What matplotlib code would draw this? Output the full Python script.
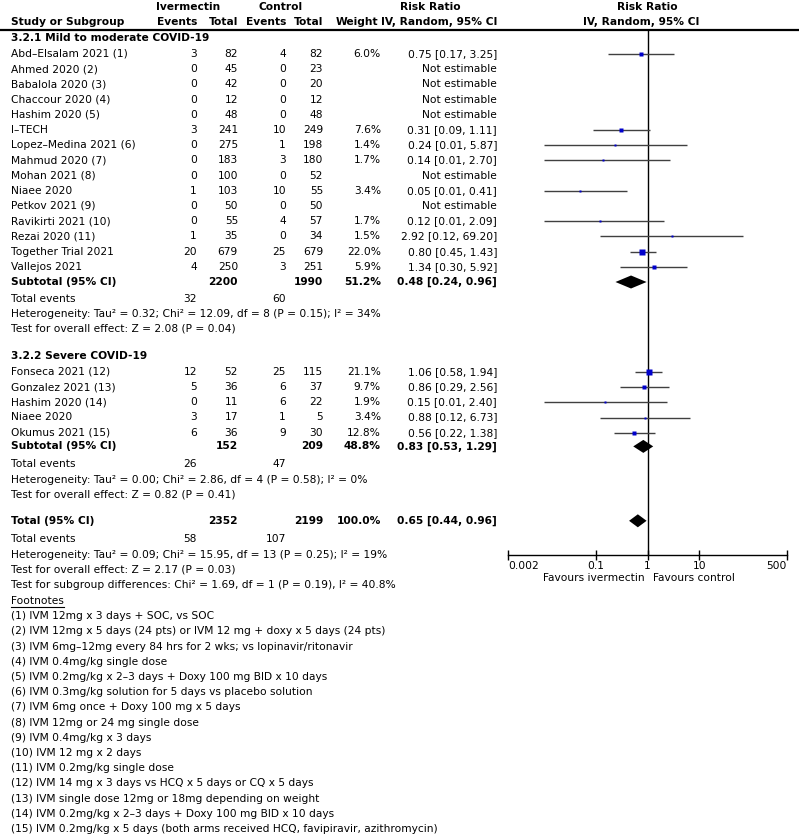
import matplotlib
matplotlib.use('Agg')
import matplotlib.pyplot as plt

plt.rcParams['font.family'] = ['DejaVu Sans']

W, H = 799, 839
FS = 7.7

# ---------------- data ----------------
mild_studies = ["Abd–Elsalam 2021 (1)", "Ahmed 2020 (2)", "Babalola 2020 (3)", "Chaccour 2020 (4)",
                "Hashim 2020 (5)", "I–TECH", "Lopez–Medina 2021 (6)", "Mahmud 2020 (7)", "Mohan 2021 (8)",
                "Niaee 2020", "Petkov 2021 (9)", "Ravikirti 2021 (10)", "Rezai 2020 (11)",
                "Together Trial 2021", "Vallejos 2021"]
mild_iv_events = [3, 0, 0, 0, 0, 3, 0, 0, 0, 1, 0, 0, 1, 20, 4]
mild_iv_total = [82, 45, 42, 12, 48, 241, 275, 183, 100, 103, 50, 55, 35, 679, 250]
mild_ctl_events = [4, 0, 0, 0, 0, 10, 1, 3, 0, 10, 0, 4, 0, 25, 3]
mild_ctl_total = [82, 23, 20, 12, 48, 249, 198, 180, 52, 55, 50, 57, 34, 679, 251]
mild_weight = [6.0, None, None, None, None, 7.6, 1.4, 1.7, None, 3.4, None, 1.7, 1.5, 22.0, 5.9]
mild_rr = [0.75, None, None, None, None, 0.31, 0.24, 0.14, None, 0.05, None, 0.12, 2.92, 0.80, 1.34]
mild_lo = [0.17, None, None, None, None, 0.09, 0.01, 0.01, None, 0.01, None, 0.01, 0.12, 0.45, 0.30]
mild_hi = [3.25, None, None, None, None, 1.11, 5.87, 2.70, None, 0.41, None, 2.09, 69.20, 1.43, 5.92]

severe_studies = ["Fonseca 2021 (12)", "Gonzalez 2021 (13)", "Hashim 2020 (14)", "Niaee 2020", "Okumus 2021 (15)"]
severe_iv_events = [12, 5, 0, 3, 6]
severe_iv_total = [52, 36, 11, 17, 36]
severe_ctl_events = [25, 6, 6, 1, 9]
severe_ctl_total = [115, 37, 22, 5, 30]
severe_weight = [21.1, 9.7, 1.9, 3.4, 12.8]
severe_rr = [1.06, 0.86, 0.15, 0.88, 0.56]
severe_lo = [0.58, 0.29, 0.01, 0.12, 0.22]
severe_hi = [1.94, 2.56, 2.40, 6.73, 1.38]

# subtotal / total: [iv_total, ctl_total, weight, rr, lo, hi, iv_events, ctl_events]
mild_sub = [2200, 1990, 51.2, 0.48, 0.24, 0.96, 32, 60]
severe_sub = [152, 209, 48.8, 0.83, 0.53, 1.29, 26, 47]
overall = [2352, 2199, 100.0, 0.65, 0.44, 0.96, 58, 107]

mild_het = "Heterogeneity: Tau² = 0.32; Chi² = 12.09, df = 8 (P = 0.15); I² = 34%"
mild_test = "Test for overall effect: Z = 2.08 (P = 0.04)"
severe_het = "Heterogeneity: Tau² = 0.00; Chi² = 2.86, df = 4 (P = 0.58); I² = 0%"
severe_test = "Test for overall effect: Z = 0.82 (P = 0.41)"
total_het = "Heterogeneity: Tau² = 0.09; Chi² = 15.95, df = 13 (P = 0.25); I² = 19%"
total_test = "Test for overall effect: Z = 2.17 (P = 0.03)"
subgroup_test = "Test for subgroup differences: Chi² = 1.69, df = 1 (P = 0.19), I² = 40.8%"

footnotes = [
    "(1) IVM 12mg x 3 days + SOC, vs SOC",
    "(2) IVM 12mg x 5 days (24 pts) or IVM 12 mg + doxy x 5 days (24 pts)",
    "(3) IVM 6mg–12mg every 84 hrs for 2 wks; vs lopinavir/ritonavir",
    "(4) IVM 0.4mg/kg single dose",
    "(5) IVM 0.2mg/kg x 2–3 days + Doxy 100 mg BID x 10 days",
    "(6) IVM 0.3mg/kg solution for 5 days vs placebo solution",
    "(7) IVM 6mg once + Doxy 100 mg x 5 days",
    "(8) IVM 12mg or 24 mg single dose",
    "(9) IVM 0.4mg/kg x 3 days",
    "(10) IVM 12 mg x 2 days",
    "(11) IVM 0.2mg/kg single dose",
    "(12) IVM 14 mg x 3 days vs HCQ x 5 days or CQ x 5 days",
    "(13) IVM single dose 12mg or 18mg depending on weight",
    "(14) IVM 0.2mg/kg x 2–3 days + Doxy 100 mg BID x 10 days",
    "(15) IVM 0.2mg/kg x 5 days (both arms received HCQ, favipiravir, azithromycin)",
]

axis_ticks = [0.002, 0.1, 1, 10, 500]
axis_ticklabels = ["0.002", "0.1", "1", "10", "500"]

# ---------------- layout (pixels) ----------------
X_NAME = 11
X_IVE = 197
X_IVT = 238
X_CTE = 286
X_CTT = 323
X_WT = 381
X_RR = 497
F_LEFT, F_RIGHT = 508, 787
F_TOP, F_AXIS = 30, 555
STEP = 15.2

fig = plt.figure(figsize=(W / 100, H / 100), dpi=100)
ax = fig.add_axes([0, 0, 1, 1])
ax.set_xlim(0, W)
ax.set_ylim(H, 0)
ax.axis('off')

axf = fig.add_axes([F_LEFT / W, (H - F_AXIS) / H, (F_RIGHT - F_LEFT) / W, (F_AXIS - F_TOP) / H])
axf.set_xscale('log')
axf.set_xlim(axis_ticks[0], axis_ticks[-1])
axf.set_ylim(F_AXIS, F_TOP)
axf.patch.set_alpha(0)
for s in ['top', 'left', 'right']:
    axf.spines[s].set_visible(False)
axf.spines['bottom'].set_linewidth(1.0)
axf.set_yticks([])
axf.set_xticks(axis_ticks)
axf.set_xticklabels(axis_ticklabels, fontsize=FS)
axf.minorticks_off()
axf.tick_params(axis='x', direction='inout', length=7, width=1.0, pad=0.5)
tl = axf.get_xticklabels()
tl[0].set_ha('left')
tl[-1].set_ha('right')
axf.axvline(1, color='black', lw=1.0)


def txt(x, y, s, ha='left', bold=False):
    ax.text(x, y, s, ha=ha, va='center', fontsize=FS, fontweight='bold' if bold else 'normal', color='black')


# headers
txt(188, 7, "Ivermectin", ha='center', bold=True)
txt(281, 7, "Control", ha='center', bold=True)
txt(430, 7, "Risk Ratio", ha='center', bold=True)
txt(647, 7, "Risk Ratio", ha='center', bold=True)
txt(X_NAME, 22, "Study or Subgroup", bold=True)
txt(X_IVE, 22, "Events", ha='right', bold=True)
txt(X_IVT, 22, "Total", ha='right', bold=True)
txt(X_CTE, 22, "Events", ha='right', bold=True)
txt(X_CTT, 22, "Total", ha='right', bold=True)
txt(X_WT - 3, 22, "Weight", ha='right', bold=True)
txt(X_RR, 22, "IV, Random, 95% CI", ha='right', bold=True)
txt(641, 22, "IV, Random, 95% CI", ha='center', bold=True)
ax.plot([0, W], [F_TOP, F_TOP], color='black', lw=1.6)


def study_rows(y, names, ive, ivt, cte, ctt, wt, rr, lo, hi):
    for i, n in enumerate(names):
        yy = y + i * STEP
        txt(X_NAME, yy, n)
        txt(X_IVE, yy, str(ive[i]), ha='right')
        txt(X_IVT, yy, str(ivt[i]), ha='right')
        txt(X_CTE, yy, str(cte[i]), ha='right')
        txt(X_CTT, yy, str(ctt[i]), ha='right')
        if rr[i] is None:
            txt(X_RR, yy, "Not estimable", ha='right')
        else:
            txt(X_WT, yy, f"{wt[i]:.1f}%", ha='right')
            txt(X_RR, yy, f"{rr[i]:.2f} [{lo[i]:.2f}, {hi[i]:.2f}]", ha='right')
            axf.plot([lo[i], hi[i]], [yy, yy], color='#404040', lw=1.0, solid_capstyle='butt')
            side = 2.2 + 0.15 * wt[i]
            axf.plot([rr[i]], [yy], marker='s', ms=side * 0.72, color='#0000cc', mec='none')
    return y + len(names) * STEP


def subtotal_row(y, label, d):
    txt(X_NAME, y, label, bold=True)
    txt(X_IVT, y, str(d[0]), ha='right', bold=True)
    txt(X_CTT, y, str(d[1]), ha='right', bold=True)
    txt(X_WT, y, f"{d[2]:.1f}%", ha='right', bold=True)
    txt(X_RR, y, f"{d[3]:.2f} [{d[4]:.2f}, {d[5]:.2f}]", ha='right', bold=True)
    hh = 6.5
    axf.fill([d[4], d[3], d[5], d[3]], [y, y - hh, y, y + hh], color='black', lw=0)


def events_row(y, d):
    txt(X_NAME, y, "Total events")
    txt(X_IVE, y, str(d[6]), ha='right')
    txt(X_CTE, y, str(d[7]), ha='right')


txt(X_NAME, 38, "3.2.1 Mild to moderate COVID-19", bold=True)
y = study_rows(54, mild_studies, mild_iv_events, mild_iv_total, mild_ctl_events, mild_ctl_total,
               mild_weight, mild_rr, mild_lo, mild_hi)
subtotal_row(y, "Subtotal (95% CI)", mild_sub)
y += 16.5
events_row(y, mild_sub)
y += STEP
txt(X_NAME, y, mild_het)
y += STEP
txt(X_NAME, y, mild_test)
y += 27
txt(X_NAME, y, "3.2.2 Severe COVID-19", bold=True)
y += 16
y = study_rows(y, severe_studies, severe_iv_events, severe_iv_total, severe_ctl_events, severe_ctl_total,
               severe_weight, severe_rr, severe_lo, severe_hi)
y -= 1.5
subtotal_row(y, "Subtotal (95% CI)", severe_sub)
y += 18
events_row(y, severe_sub)
y += STEP
txt(X_NAME, y, severe_het)
y += STEP
txt(X_NAME, y, severe_test)
y += 26
subtotal_row(y, "Total (95% CI)", overall)
y += 18.5
events_row(y, overall)
y += STEP
txt(X_NAME, y, total_het)
y += STEP
txt(X_NAME, y, total_test)
y += STEP
txt(X_NAME, y, subgroup_test)
y += 16
tf = ax.text(X_NAME, y, "Footnotes", ha='left', va='center', fontsize=FS)
fig.canvas.draw()
bb = tf.get_window_extent()
ax.plot([X_NAME, X_NAME + bb.width], [y + 6, y + 6], color='black', lw=0.8)
for fn in footnotes:
    y += STEP
    txt(X_NAME, y, fn)

txt(645, 578, "Favours ivermectin", ha='right')
txt(653, 578, "Favours control", ha='left')

fig.savefig('out.png', dpi=100)
